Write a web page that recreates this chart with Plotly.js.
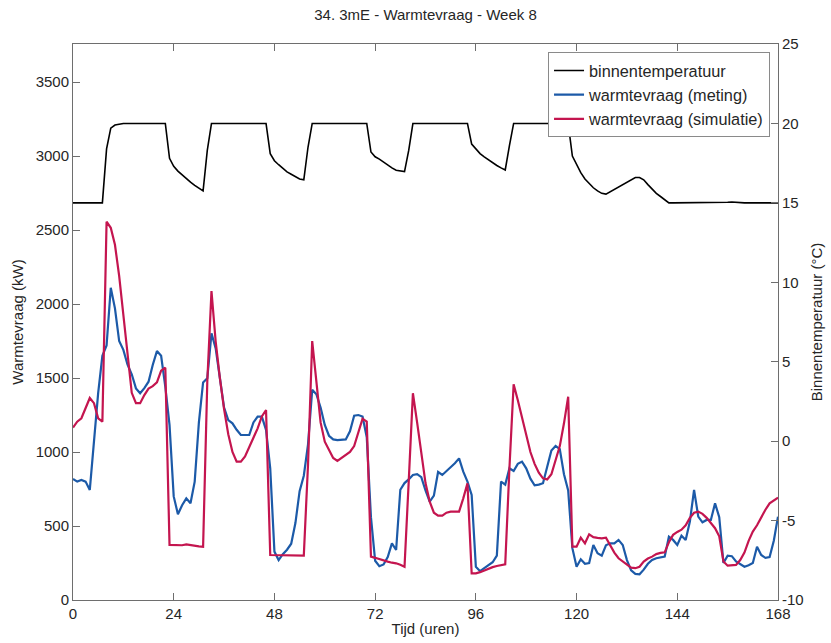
<!DOCTYPE html>
<html>
<head>
<meta charset="utf-8">
<script src="https://cdn.plot.ly/plotly-3.0.1.min.js"></script>
<style>html,body{margin:0;padding:0;background:#fff;}#chart{width:831px;height:643px;}</style>
</head>
<body>
<div id="chart"></div>
<script>
// hours 0..168 (hourly samples)
const hourCount = 169;
const xTicks = [0, 24, 48, 72, 96, 120, 144, 168];
const yLeftTicks = [0, 500, 1000, 1500, 2000, 2500, 3000, 3500];
const yRightTicks = [-10, -5, 0, 5, 10, 15, 20, 25];

const seriesNames = ["binnentemperatuur", "warmtevraag (meting)", "warmtevraag (simulatie)"];

// indoor temperature (°C), hourly
const binnentemperatuur = [
 15,15,15,15,15,15,15,15,18.4,19.7,19.9,19.95,20,20,20,20,20,20,20,20,20,20,20,17.8,
 17.3,17.0,16.75,16.5,16.3,16.1,15.9,15.75,18.3,20,20,20,20,20,20,20,20,20,20,20,20,20,20,18.1,
 17.65,17.4,17.15,16.95,16.8,16.65,16.5,16.45,18.5,20,20,20,20,20,20,20,20,20,20,20,20,20,20,18.2,
 17.9,17.75,17.55,17.35,17.2,17.05,17.0,16.97,18.3,20,20,20,20,20,20,20,20,20,20,20,20,20,20,18.7,
 18.4,18.1,17.9,17.7,17.5,17.35,17.2,17.07,18.6,20,20,20,20,20,20,20,20,20,20,20,20,20,20,17.95,
 17.4,16.9,16.5,16.2,15.95,15.75,15.6,15.55,15.7,15.8,15.95,16.1,16.25,16.45,16.6,16.6,16.45,16.15,15.85,15.6,15.4,15.2,15,15,
 15,15,15,15,15,15,15,15,15,15,15,15,15.04,15.05,15.02,15,15,15,15,15,15,15,15,15,
 15
];

// measured heat demand (kW), hourly
const meting = [
 818,800,811,800,744,1060,1400,1650,1720,2110,1971,1750,1690,1590,1525,1430,1397,1432,1475,1588,1682,1650,1440,1183,
 700,580,640,687,654,800,1200,1470,1498,1802,1700,1500,1300,1215,1194,1150,1115,1115,1115,1200,1239,1239,1150,890,
 327,270,310,340,380,520,735,840,1050,1420,1390,1300,1183,1110,1085,1081,1081,1085,1140,1245,1250,1240,1100,560,
 265,228,240,290,383,338,745,790,815,845,850,830,740,665,705,865,845,870,900,924,957,867,800,710,
 225,195,215,237,255,300,800,780,890,872,920,935,890,820,775,780,789,900,1010,1041,1020,850,740,350,
 225,275,245,250,372,316,300,370,383,383,406,372,270,200,176,174,205,245,270,282,288,293,428,406,
 372,435,406,530,744,563,525,541,541,653,560,250,300,296,260,240,225,235,250,360,304,285,290,400,
 563
];

// simulated heat demand (kW), hourly
const simulatie = [
 1165,1205,1228,1300,1365,1330,1228,1205,2556,2515,2400,2190,1920,1660,1400,1330,1330,1385,1428,1445,1470,1550,1570,372,
 372,368,370,376,370,365,362,360,1475,2088,1746,1500,1290,1120,1000,935,935,970,1030,1095,1160,1240,1284,304,
 304,302,300,300,300,300,300,300,912,1750,1475,1200,1070,1010,960,940,960,978,1000,1040,1140,1225,1205,293,
 285,275,266,259,252,248,238,225,800,1397,1200,980,790,665,590,570,570,590,597,597,597,687,789,180,
 180,188,200,215,222,230,236,241,890,1457,1350,1240,1110,1000,920,860,822,815,850,940,1040,1194,1374,360,
 360,421,383,444,425,420,417,421,370,320,282,260,235,219,215,225,259,280,293,310,318,322,390,440,
 460,475,505,555,590,597,582,555,520,485,430,260,232,235,237,270,320,400,462,505,560,610,653,675,
 692
];

const hours = Array.from({length: hourCount}, (_, i) => i);

const axisColor = '#6e6e6e';
const textColor = '#262626';
const fontFamily = '"Liberation Sans", Arial, sans-serif';

const traces = [
  {x: hours, y: binnentemperatuur, name: seriesNames[0], type: 'scatter', mode: 'lines',
   yaxis: 'y2', line: {color: '#000000', width: 1.6}},
  {x: hours, y: meting, name: seriesNames[1], type: 'scatter', mode: 'lines',
   line: {color: '#1c5aa8', width: 2.2}},
  {x: hours, y: simulatie, name: seriesNames[2], type: 'scatter', mode: 'lines',
   line: {color: '#c4154f', width: 2.2}}
];

const layout = {
  width: 831, height: 643,
  margin: {l: 73, r: 53, t: 44, b: 43},
  paper_bgcolor: '#ffffff', plot_bgcolor: '#ffffff',
  font: {family: fontFamily, size: 15, color: textColor},
  showlegend: true,
  title: {text: '34. 3mE - Warmtevraag - Week 8', x: 0.5, xref: 'paper',
          y: 1 - 15/643, yref: 'container', yanchor: 'middle',
          font: {family: fontFamily, size: 15, color: textColor}},
  xaxis: {range: [0, 168], tickvals: xTicks, ticktext: xTicks.map(String),
          showgrid: false, zeroline: false, showline: true, linecolor: axisColor, linewidth: 1,
          mirror: 'ticks', ticks: 'inside', ticklen: 7, tickcolor: axisColor,
          automargin: false,
          title: {text: 'Tijd (uren)', standoff: 2, font: {size: 15}}},
  yaxis: {range: [0, 3757], tickvals: yLeftTicks, ticktext: yLeftTicks.map(String),
          showgrid: false, zeroline: false, showline: true, linecolor: axisColor, linewidth: 1,
          ticks: 'inside', ticklen: 7, tickcolor: axisColor, automargin: false,
          title: {text: 'Warmtevraag (kW)', standoff: 8, font: {size: 15}}},
  yaxis2: {range: [-10, 25], tickvals: yRightTicks, ticktext: yRightTicks.map(String),
           overlaying: 'y', side: 'right',
           showgrid: false, zeroline: false, showline: true, linecolor: axisColor, linewidth: 1,
           ticks: 'inside', ticklen: 7, tickcolor: axisColor, automargin: false,
           title: {text: 'Binnentemperatuur (°C)', standoff: 8, font: {size: 15}}},
  legend: {x: 0.9887, y: 0.985, xanchor: 'right', yanchor: 'top',
           bgcolor: '#ffffff', bordercolor: '#8a8a8a', borderwidth: 1,
           font: {family: fontFamily, size: 16.3, color: textColor},
           tracegroupgap: 0, itemclick: false}
};

Plotly.newPlot('chart', traces, layout, {displayModeBar: false, staticPlot: true});
</script>
</body>
</html>
